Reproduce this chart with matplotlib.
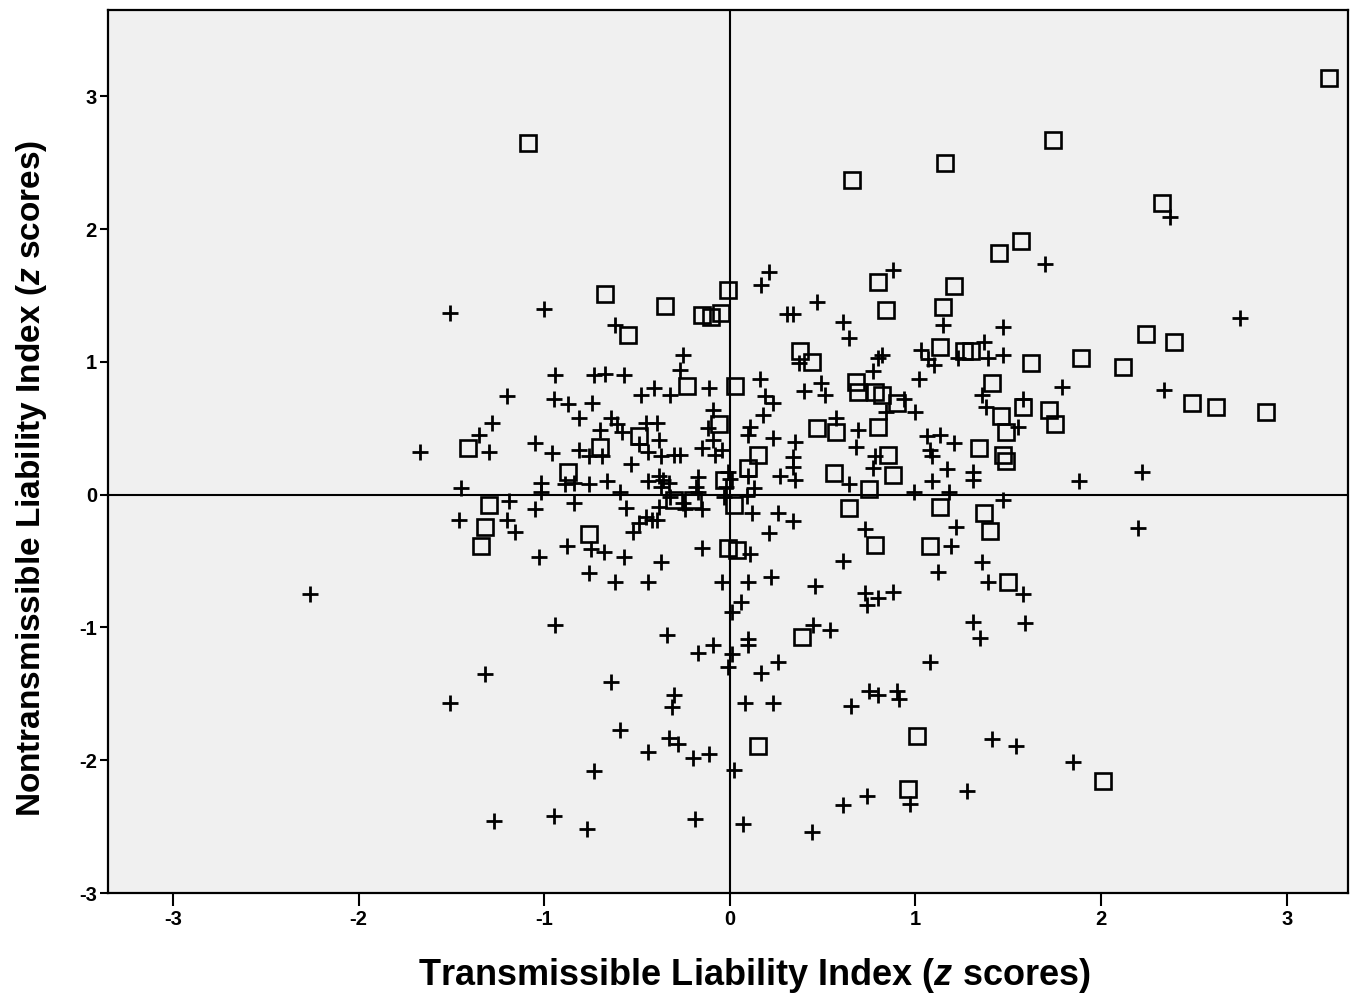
import matplotlib
matplotlib.use("Agg")
import matplotlib.pyplot as plt

plt.rcParams['font.family'] = ['Liberation Sans', 'DejaVu Sans']
plt.rcParams['axes.unicode_minus'] = False
plt.rcParams['mathtext.fontset'] = 'custom'
plt.rcParams['mathtext.it'] = 'Liberation Sans:italic:bold'
plt.rcParams['mathtext.rm'] = 'Liberation Sans:bold'

# ---- data (z scores) ----
# group drawn with open squares
sq_x = [3.23, -1.09, 1.74, 1.16, 0.66, 2.33, 1.57, 1.45,
        -0.67, -0.35, -0.01, -0.55, -0.15, -0.10, -0.05,
        0.80, 1.21, 0.84, 1.15,
        0.38, 0.44, 0.03, -0.23,
        0.68, 0.69, 0.78, 0.82, 0.90,
        1.13, 1.26, 1.30, 1.62, 1.89, 2.12, 2.24, 2.39,
        1.41, 1.58, 1.72, 1.75, 1.46, 1.49, 1.34, 1.47, 1.49, 2.49, 2.62, 2.89,
        0.47, 0.57, 0.80, 0.85, 0.88, 0.56, 0.75, 0.64, 0.15, 0.10, -0.06,
        1.13, 1.37, 1.40, 1.08, 0.78,
        -1.41, -0.70, -0.49, -0.87, -1.30, -1.32, -1.34, -0.76, -0.30, -0.20,
        -0.03, 0.02, -0.01, 0.04,
        0.39, 0.15, 1.50, 1.01, 0.96, 2.01]
sq_y = [3.14, 2.65, 2.67, 2.50, 2.37, 2.20, 1.91, 1.82,
        1.51, 1.42, 1.54, 1.20, 1.35, 1.34, 1.37,
        1.60, 1.57, 1.39, 1.41,
        1.08, 1.00, 0.82, 0.82,
        0.85, 0.77, 0.77, 0.75, 0.69,
        1.11, 1.08, 1.08, 0.99, 1.03, 0.96, 1.21, 1.15,
        0.84, 0.66, 0.64, 0.53, 0.59, 0.47, 0.35, 0.30, 0.25, 0.69, 0.66, 0.62,
        0.50, 0.47, 0.51, 0.30, 0.15, 0.16, 0.04, -0.10, 0.30, 0.20, 0.53,
        -0.09, -0.14, -0.27, -0.39, -0.38,
        0.35, 0.36, 0.44, 0.17, -0.08, -0.24, -0.39, -0.30, -0.04, -0.04,
        0.11, -0.08, -0.40, -0.42,
        -1.07, -1.89, -0.66, -1.82, -2.22, -2.16]

# group drawn with plus signs
pl_x = [-2.26, -1.51, -1.00, -1.51, -1.32, -0.94, -0.64, -0.73, -1.27, -0.95, -0.77,
        -1.67, -1.45, -1.46, -1.20, -1.28, -1.35, -1.20, -1.16, -1.19, -1.05, -1.05, -1.30,
        -1.02, -1.02, -0.89, -0.84, -0.76, -0.66, -0.59, -0.96, -0.81, -0.69,
        -0.88, -0.75, -0.68, -0.57, -0.37, -1.03, -0.76, -0.62, -0.44, -0.15, -0.04,
        -0.94, -0.73, -0.67, -0.57, -0.95, -0.87, -0.74, -0.81, -0.64, -0.61, -0.70, -0.58,
        -0.45, -0.39, -0.38, -0.48, -0.41, -0.32, -0.11, -0.09, -0.12, -0.09, -0.15, -0.04, -0.08,
        -0.25, -0.27, -0.62, -0.76, -0.53, -0.44, -0.37, -0.30, -0.27, -0.49,
        -0.44, -0.38, -0.36, -0.37, -0.33, -0.17, -0.18, -0.17, -0.01, 0.00, -0.02, -0.03,
        -0.84, -0.56, -0.38, -0.32, -0.25, -0.24, -0.15, -0.49, -0.45, -0.42, -0.39, -0.52,
        0.10, 0.13, 0.09, 0.12, 0.16, 0.17, 0.21, 0.31, 0.34, 0.47, 0.61, 0.64, 0.88,
        0.40, 0.49, 0.51, 0.19, 0.23, 0.18, 0.11, 0.10, 0.23, 0.35, 0.57, 0.69, 0.68, 0.78, 0.77,
        0.34, 0.34, 0.27, 0.35, 0.64, 0.99, 0.26, 0.34, 0.21, 0.73,
        0.80, 0.77, 0.82, 1.02, 0.94, 1.00, 1.06, 1.08, 1.09, 1.09, 0.37,
        1.03, 1.07, 1.10, 1.15, 1.23, 1.37, 1.39, 1.47, 1.47, 1.70,
        1.21, 1.17, 1.31, 1.31, 1.13, 1.47, 1.22,
        0.11, 0.61, 1.19, 1.36, 1.12, 1.39, 1.58, 0.22, 0.10, 0.46, 0.73, 0.80, 0.88, 0.74, 0.06, 0.01,
        1.79, 2.34, 2.75, 2.37, 1.55, 1.58, 1.36, 1.38, 1.88, 2.22, 2.20, 0.84,
        -0.34, -0.17, -0.09, 0.01, -0.01, 0.10, 0.10, 0.26, 0.17, 0.08, 0.23, 0.65, 0.45, 0.54,
        -0.30, -0.31, -0.59, -0.44, -0.33, -0.28, -0.20, -0.11, 0.02, -0.19, 0.07, 0.44, 0.61,
        1.31, 1.35, 1.59, 1.08, 0.75, 0.80, 0.90, 0.91, 1.41, 1.54, 1.85, 0.74, 0.97, 1.28, 1.18]
pl_y = [-0.75, 1.37, 1.40, -1.57, -1.35, -0.98, -1.41, -2.08, -2.46, -2.42, -2.52,
        0.32, 0.05, -0.19, 0.74, 0.54, 0.45, -0.19, -0.28, -0.05, -0.11, 0.39, 0.32,
        0.09, 0.02, 0.08, 0.09, 0.08, 0.10, 0.02, 0.31, 0.34, 0.29,
        -0.39, -0.41, -0.43, -0.47, -0.51, -0.47, -0.59, -0.66, -0.66, -0.40, -0.66,
        0.90, 0.90, 0.91, 0.90, 0.72, 0.68, 0.69, 0.58, 0.58, 0.53, 0.49, 0.47,
        0.54, 0.54, 0.41, 0.75, 0.80, 0.75, 0.80, 0.64, 0.50, 0.41, 0.35, 0.34, 0.30,
        1.05, 0.94, 1.28, 0.29, 0.23, 0.32, 0.29, 0.30, 0.30, 0.38,
        0.10, 0.14, 0.11, 0.06, 0.09, 0.13, 0.06, 0.02, 0.17, 0.12, 0.06, -0.02,
        -0.06, -0.10, -0.09, -0.02, -0.06, -0.11, -0.11, -0.21, -0.17, -0.19, -0.19, -0.28,
        0.14, 0.05, -0.01, -0.14, 0.87, 1.58, 1.68, 1.36, 1.36, 1.45, 1.30, 1.18, 1.69,
        0.78, 0.84, 0.75, 0.74, 0.69, 0.60, 0.51, 0.45, 0.43, 0.40, 0.58, 0.49, 0.36, 0.29, 0.20,
        0.28, 0.21, 0.14, 0.11, 0.08, 0.02, -0.14, -0.20, -0.29, -0.26,
        1.03, 0.93, 1.05, 0.87, 0.72, 0.62, 0.44, 0.34, 0.29, 0.10, 0.99,
        1.09, 1.02, 0.98, 1.28, 1.03, 1.15, 1.03, 1.05, 1.26, 1.74,
        0.39, 0.19, 0.17, 0.11, 0.45, -0.04, -0.24,
        -0.45, -0.50, -0.39, -0.51, -0.58, -0.66, -0.75, -0.62, -0.66, -0.69, -0.74, -0.78, -0.73, -0.83, -0.81, -0.88,
        0.81, 0.79, 1.33, 2.09, 0.51, 0.72, 0.75, 0.66, 0.10, 0.17, -0.25, 0.62,
        -1.06, -1.19, -1.13, -1.20, -1.30, -1.09, -1.13, -1.26, -1.34, -1.57, -1.57, -1.59, -0.98, -1.02,
        -1.51, -1.60, -1.77, -1.94, -1.83, -1.88, -1.98, -1.95, -2.07, -2.44, -2.48, -2.54, -2.34,
        -0.96, -1.08, -0.97, -1.26, -1.48, -1.51, -1.48, -1.54, -1.84, -1.89, -2.01, -2.27, -2.33, -2.23, 0.02]

x_ticks = [-3, -2, -1, 0, 1, 2, 3]
y_ticks = [-3, -2, -1, 0, 1, 2, 3]
x_label = r"Transmissible Liability Index ($\mathit{z}$ scores)"
y_label = r"Nontransmissible Liability Index ($\mathit{z}$ scores)"

# ---- figure ----
W, H = 1358, 996
fig = plt.figure(figsize=(W / 100, H / 100), dpi=100)
fig.patch.set_facecolor('white')
ax = fig.add_axes([108 / W, 1 - 893 / H, (1348 - 108) / W, (893 - 10) / H])
ax.set_facecolor('#f0f0f0')

ax.set_xlim(-3.35, 3.33)
ax.set_ylim(-3.0, 3.65)

ax.axvline(0, color='black', lw=1.5, zorder=1)
ax.axhline(0, color='black', lw=1.5, zorder=1)

ax.plot(pl_x, pl_y, linestyle='none', marker='+', markersize=11.5,
        markeredgewidth=2.0, color='black', zorder=3)
ax.plot(sq_x, sq_y, linestyle='none', marker='s', markersize=11,
        markeredgewidth=1.9, markerfacecolor='none', markeredgecolor='black', zorder=4)

for s in ax.spines.values():
    s.set_color('black')
    s.set_linewidth(1.6)

ax.set_xticks(x_ticks)
ax.set_yticks(y_ticks)
ax.set_xticklabels([str(t) for t in x_ticks], fontsize=14.5, fontweight='bold')
ax.set_yticklabels([str(t) for t in y_ticks], fontsize=14.5, fontweight='bold')
ax.tick_params(axis='x', direction='out', length=9, width=1.5, pad=3, colors='black')
ax.tick_params(axis='y', direction='out', length=6, width=1.5, pad=2, colors='black')

fig.text(754 / W, 1 - 975 / H, x_label, fontsize=26, fontweight='bold',
         ha='center', va='center')
fig.text(32 / W, 1 - 478 / H, y_label, fontsize=24, fontweight='bold',
         ha='center', va='center', rotation=90)

fig.savefig('out.png', dpi=100, facecolor='white')
